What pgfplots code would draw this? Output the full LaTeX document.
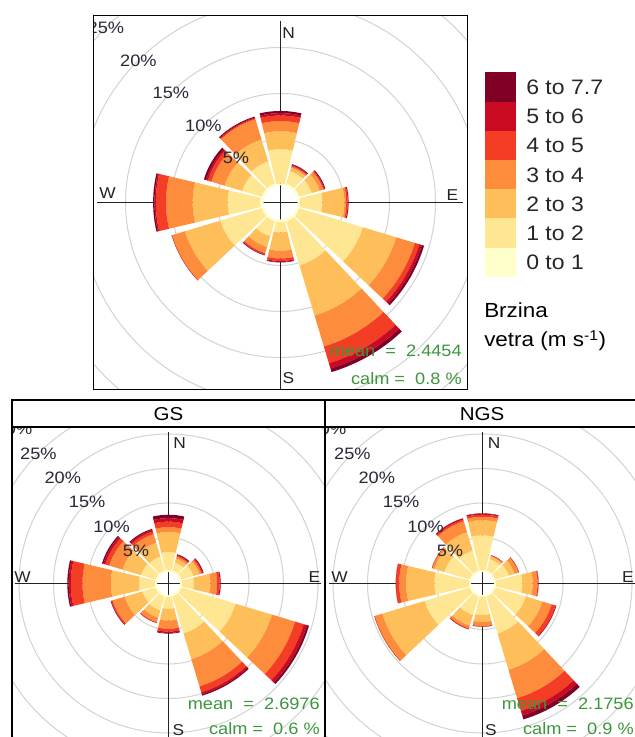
\documentclass[border=0pt]{standalone}
\usepackage{pgfplots}
\usepackage{pgfplotstable}
\pgfplotsset{compat=1.18}
\usepackage{fontspec}
\setmainfont{Liberation Sans}[FakeStretch=1.1]

\definecolor{c1}{RGB}{255,255,204}
\definecolor{c2}{RGB}{255,230,146}
\definecolor{c3}{RGB}{254,191,90}
\definecolor{c4}{RGB}{253,141,60}
\definecolor{c5}{RGB}{244,61,37}
\definecolor{c6}{RGB}{202,9,35}
\definecolor{c7}{RGB}{128,0,38}
\definecolor{ringcol}{RGB}{212,212,212}
\definecolor{axcol}{RGB}{35,35,35}
\definecolor{lblcol}{RGB}{40,40,55}
\definecolor{grn}{RGB}{60,150,60}

% per-bin frequencies (%) for speed bins 0-1,1-2,2-3,3-4,4-5,5-6,6-7.7
\pgfplotstableread{
dir b1 b2 b3 b4 b5 b6 b7
0   0.2 3.75 1.95 1.1 0.6 0.26 0.24
30  0.3 1.4 0.4 0.15 0.1 0.07 0.08
60  0.3 1.4 0.9 0.4 0.1 0.08 0.07
90  0.3 2.4 2.4 0.2 0.15 0.1 0
120 0.3 7.2 3.8 2.1 0.5 0.3 0.25
150 0.3 5.0 5.7 3.5 1.9 0.6 0.4
180 0.3 1.1 2.0 0.84 0.26 0.12 0.05
210 0.3 1.7 1.2 0.7 0.15 0.05 0.05
240 0.3 4.7 4.0 1.5 0 0 0
270 0.4 3.5 3.8 2.9 1.1 0.15 0.15
300 0.3 2.2 2.0 1.5 0.4 0.2 0.25
330 0.3 2.5 2.5 2.3 0.1 0.1 0.1
}\toptab

\pgfplotstableread{
dir b1 b2 b3 b4 b5 b6 b7
0   0.3 2.6 2.9 0.7 0.8 0.5 0.5
30  0.3 1.2 0.6 0.3 0.15 0.1 0.1
60  0.3 1.8 0.9 0.3 0.15 0.1 0.1
90  0.3 1.7 2.4 1.0 0.35 0.15 0
120 0.3 8.2 5.5 3.5 1.3 0.5 0.3
150 0.3 5.6 3.9 4.1 0.9 0.3 0.2
180 0.3 1.7 1.7 1.2 0.4 0.2 0.1
210 0.3 2.1 1.1 0.7 0.1 0 0
240 0.3 2.0 2.7 1.8 0.2 0.05 0.05
270 0.3 2.3 4.1 4.1 1.7 0.3 0.2
300 0.3 2.2 2.8 2.0 0.6 0.3 0.2
330 0.3 2.1 2.1 1.3 0.4 0.25 0.15
}\gstab

\pgfplotstableread{
dir b1 b2 b3 b4 b5 b6 b7
0   0.3 5.0 2.2 0.5 0.3 0.15 0.05
30  0.3 1.7 0.4 0.15 0.05 0 0
60  0.3 2.0 0.9 0.6 0.05 0 0
90  0.3 3.8 1.5 0.7 0.15 0 0
120 0.3 4.6 2.5 1.4 0.6 0.1 0
150 0.3 5.6 5.5 4.3 1.9 0.7 0.6
180 0.3 2.6 1.0 0.6 0.1 0 0
210 0.3 2.8 1.6 0.4 0.15 0 0
240 0.3 6.8 6.4 1.2 0 0 0
270 0.3 5.0 4.1 1.0 0.5 0 0
300 0.3 3.8 1.5 0.4 0 0 0
330 0.3 3.0 2.8 1.65 0.25 0.2 0
}\ngstab

\newcommand\halfw{13.25}
\newcommand\nseg{12}
\newcommand\addto[2]{\xdef#1{\unexpanded\expandafter{#1}#2}}
% one stacked segment: direction, cumulative % low, cumulative % high, colour
\newcommand\wedgeplot[4]{%
  \pgfmathsetmacro\Rin{\phole+\pk*#2}%
  \pgfmathsetmacro\Rout{\phole+\pk*#3}%
  \pgfmathsetmacro\wa{90-#1-\halfw}%
  \pgfmathsetmacro\wstep{2*\halfw/\nseg}%
  \gdef\wcoords{}%
  \foreach \wi in {0,...,\nseg}{%
    \pgfmathsetmacro\wang{\wa+\wi*\wstep}%
    \pgfmathsetmacro\wx{\pcx+\Rout*cos(\wang)}\pgfmathsetmacro\wy{-\pcy+\Rout*sin(\wang)}%
    \xdef\wcoords{\wcoords (\wx,\wy)}%
  }%
  \foreach \wi in {0,...,\nseg}{%
    \pgfmathsetmacro\wang{\wa+2*\halfw-\wi*\wstep}%
    \pgfmathsetmacro\wx{\pcx+\Rin*cos(\wang)}\pgfmathsetmacro\wy{-\pcy+\Rin*sin(\wang)}%
    \xdef\wcoords{\wcoords (\wx,\wy)}%
  }%
  \addto\allplots{\noexpand\addplot[fill=#4, draw=none, forget plot] coordinates {\wcoords} -- cycle;}%
}
\newcommand\buildbars[1]{%
  \pgfplotstablegetrowsof{#1}%
  \pgfmathtruncatemacro\nrows{\pgfplotsretval-1}%
  \foreach \rr in {0,...,\nrows}{%
    \pgfplotstablegetelem{\rr}{dir}\of{#1}\xdef\vdir{\pgfplotsretval}%
    \xdef\rlo{0}%
    \foreach \bb in {1,...,7}{%
      \pgfplotstablegetelem{\rr}{b\bb}\of{#1}\xdef\vv{\pgfplotsretval}%
      \pgfmathsetmacro\rhi{\rlo+\vv}%
      \wedgeplot{\vdir}{\rlo}{\rhi}{c\bb}%
      \xdef\rlo{\rhi}%
    }%
  }%
}
% #1 cx, #2 cy (image px, y down), #3 half size (px), #4 hole (px), #5 px per %, #6 rings, #7 table
\newcommand\setpanel[7]{%
  \xdef\pcx{#1}\xdef\pcy{#2}\xdef\phole{#4}\xdef\pk{#5}%
  \pgfmathsetmacro\xa{#1-#3}\pgfmathsetmacro\xb{#1+#3}%
  \pgfmathsetmacro\ya{-#2-#3}\pgfmathsetmacro\yb{-#2+#3}%
  \pgfmathsetmacro\lxa{#1-#3+3}\pgfmathsetmacro\lxb{#1+#3-4}\pgfmathsetmacro\lyt{-#2+#3-5}%
  \addto\allbg{\noexpand\begin{scope}[overlay]\noexpand\clip (\xa,\ya) rectangle (\xb,\yb);}%
  \foreach \n in {1,...,#6}{%
    \pgfmathsetmacro\rrad{(#4+#5*5*\n)*0.75}%
    \addto\allbg{\noexpand\draw[ringcol,line width=0.8pt] (#1,-#2) circle[radius=\rrad pt];}%
  }%
  \addto\allbg{\noexpand\draw[axcol,line width=1.1pt] (\lxa,-#2) -- (\lxb,-#2);
    \noexpand\draw[axcol,line width=1.1pt] (#1,\lyt) -- (#1,\ya);\noexpand\end{scope}}%
  \addto\allfg{\noexpand\begin{scope}[overlay]\noexpand\clip (\xa,\ya) rectangle (\xb,\yb);}%
  \foreach \n in {1,...,#6}{%
    \pgfmathsetmacro\lx{#1-(#4+#5*5*\n)*0.7071}%
    \pgfmathsetmacro\ly{-#2+(#4+#5*5*\n)*0.7071}%
    \pgfmathtruncatemacro\pp{5*\n}%
    \addto\allfg{\noexpand\node[lbl] at (\lx,\ly) {\pp\noexpand\%};}%
  }%
  \addto\allfg{\noexpand\end{scope}}%
  \buildbars{#7}%
}

\tikzset{lbl/.style={text=lblcol,inner sep=0,font=\fontsize{12.4pt}{14pt}\selectfont},
  dirl/.style={text=axcol,inner sep=0,font=\fontsize{11.8pt}{13pt}\selectfont},
  grl/.style={text=grn,inner sep=0,anchor=east,font=\fontsize{12.4pt}{14pt}\selectfont},
  legl/.style={anchor=west,inner sep=0,text=black!85,font=\fontsize{15.7pt}{18pt}\selectfont},
  stl/.style={inner sep=0,font=\fontsize{14pt}{16pt}\selectfont}}

\begin{document}
\begin{tikzpicture}
\gdef\allbg{}\gdef\allfg{}\gdef\allplots{}%
\setpanel{280.5}{202.5}{186.75}{17}{9.2}{5}{\toptab}%
\setpanel{168.5}{583.5}{156.5}{11.5}{6.9}{6}{\gstab}%
\setpanel{482.5}{583.5}{156.5}{11.5}{6.9}{6}{\ngstab}%
\begin{axis}[scale only axis, width=475.5pt, height=552.75pt,
  xmin=0, xmax=634, ymin=-737, ymax=0, hide axis, clip=false]
\path (0,-737) rectangle (634,0);
\allbg
\allplots
\allfg
\begin{scope}[overlay]
% top panel texts
\node[dirl] at (288.5,-33.5) {N};
\node[dirl] at (288.5,-378.5) {S};
\node[dirl] at (107.5,-193.5) {W};
\node[dirl] at (452.5,-195.5) {E};
\node[grl] at (462,-351) {mean~~=~~2.4454};
\node[grl] at (462,-379) {calm =~~0.8 \%};
\draw[black,line width=1.1pt] (93.75,-15.75) rectangle (467.25,-389.25);
% GS
\node[dirl] at (179.5,-443.5) {N};
\node[dirl] at (178.5,-730) {S};
\node[dirl] at (22.5,-577.5) {W};
\node[dirl] at (314.5,-577.5) {E};
\node[grl] at (320,-704) {mean~~=~~2.6976};
\node[grl] at (320,-729) {calm =~~0.6 \%};
% NGS
\node[dirl] at (494,-443.5) {N};
\node[dirl] at (491,-730) {S};
\node[dirl] at (339.5,-577.5) {W};
\node[dirl] at (628,-577.5) {E};
\node[grl] at (634,-704) {mean~~=~~2.1756};
\node[grl] at (634,-729) {calm =~~0.9 \%};
% strips and borders
\draw[black,line width=1.1pt] (12,-400) rectangle (325,-740);
\draw[black,line width=1.1pt] (12,-427) -- (325,-427);
\draw[black,line width=1.1pt] (325,-400) rectangle (639,-740);
\draw[black,line width=1.1pt] (325,-427) -- (639,-427);
\node[stl] at (168.5,-414) {GS};
\node[stl] at (482,-414) {NGS};
% legend
\fill[c7] (485,-72.5) rectangle (516,-101.7);
\fill[c6] (485,-101.7) rectangle (516,-130.9);
\fill[c5] (485,-130.9) rectangle (516,-160.1);
\fill[c4] (485,-160.1) rectangle (516,-189.3);
\fill[c3] (485,-189.3) rectangle (516,-218.5);
\fill[c2] (485,-218.5) rectangle (516,-247.7);
\fill[c1] (485,-247.7) rectangle (516,-276.9);
\node[legl] at (526,-87.5) {6 to 7.7};
\node[legl] at (526,-116.7) {5 to 6};
\node[legl] at (526,-145.9) {4 to 5};
\node[legl] at (526,-175.1) {3 to 4};
\node[legl] at (526,-204.3) {2 to 3};
\node[legl] at (526,-233.5) {1 to 2};
\node[legl] at (526,-262.7) {0 to 1};
\node[anchor=base west,inner sep=0,font=\fontsize{15.3pt}{18pt}\selectfont] at (484,-318) {Brzina};
\node[anchor=base west,inner sep=0,font=\fontsize{15.3pt}{18pt}\selectfont] at (484,-347) {vetra (m s\textsuperscript{-1})};
\end{scope}
\end{axis}
\end{tikzpicture}
\end{document}
